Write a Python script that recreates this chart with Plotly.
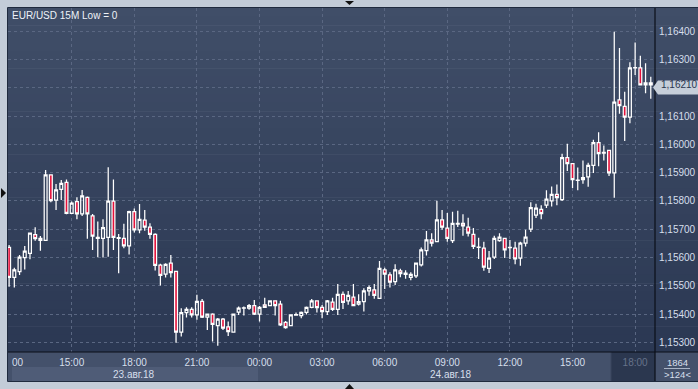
import pandas as pd
import plotly.graph_objects as go

# ---- data (EUR/USD, 15-minute candles, 23.08.2018 12:00 .. 24.08.2018 18:45) ----
start_time = "2018-08-23 12:00"
n_bars = 124
open_ = [1.15636, 1.15530, 1.15550, 1.15600, 1.15615, 1.15681, 1.15668, 1.15661, 1.15892, 1.15803,
         1.15841, 1.15866, 1.15756, 1.15798, 1.15754, 1.15813, 1.15747, 1.15668, 1.15668, 1.15671,
         1.15799, 1.15670, 1.15668, 1.15641, 1.15762, 1.15698, 1.15732, 1.15707, 1.15682, 1.15573,
         1.15541, 1.15580, 1.15551, 1.15336, 1.15405, 1.15417, 1.15397, 1.15445, 1.15389, 1.15400,
         1.15359, 1.15382, 1.15355, 1.15336, 1.15407, 1.15421, 1.15421, 1.15430, 1.15400, 1.15433,
         1.15430, 1.15447, 1.15435, 1.15371, 1.15359, 1.15396, 1.15395, 1.15406, 1.15424, 1.15447,
         1.15424, 1.15409, 1.15442, 1.15417, 1.15470, 1.15447, 1.15460, 1.15435, 1.15444, 1.15482,
         1.15486, 1.15456, 1.15556, 1.15539, 1.15515, 1.15553, 1.15540, 1.15530, 1.15535, 1.15574,
         1.15624, 1.15662, 1.15656, 1.15733, 1.15704, 1.15660, 1.15718, 1.15721, 1.15707, 1.15682,
         1.15636, 1.15633, 1.15562, 1.15601, 1.15660, 1.15668, 1.15635, 1.15633, 1.15598, 1.15651,
         1.15700, 1.15750, 1.15770, 1.15785, 1.15800, 1.15823, 1.15805, 1.15953, 1.15932, 1.15873,
         1.15875, 1.15885, 1.15926, 1.16006, 1.15972, 1.15979, 1.15899, 1.16157, 1.16134, 1.16096,
         1.16270, 1.16270, 1.16210, 1.16217]
high = [1.15644, 1.15564, 1.15609, 1.15641, 1.15688, 1.15707, 1.15676, 1.15909, 1.15893, 1.15860,
        1.15874, 1.15876, 1.15798, 1.15813, 1.15839, 1.15816, 1.15754, 1.15727, 1.15735, 1.15919,
        1.15876, 1.15683, 1.15719, 1.15765, 1.15773, 1.15789, 1.15768, 1.15721, 1.15686, 1.15578,
        1.15580, 1.15609, 1.15552, 1.15421, 1.15424, 1.15424, 1.15468, 1.15453, 1.15402, 1.15403,
        1.15386, 1.15386, 1.15374, 1.15400, 1.15427, 1.15427, 1.15436, 1.15450, 1.15429, 1.15458,
        1.15449, 1.15449, 1.15447, 1.15376, 1.15397, 1.15406, 1.15409, 1.15427, 1.15453, 1.15449,
        1.15432, 1.15450, 1.15458, 1.15506, 1.15480, 1.15482, 1.15506, 1.15470, 1.15491, 1.15501,
        1.15506, 1.15588, 1.15564, 1.15548, 1.15576, 1.15560, 1.15555, 1.15548, 1.15582, 1.15635,
        1.15694, 1.15686, 1.15801, 1.15768, 1.15757, 1.15762, 1.15765, 1.15753, 1.15741, 1.15704,
        1.15670, 1.15656, 1.15623, 1.15677, 1.15686, 1.15670, 1.15662, 1.15656, 1.15656, 1.15698,
        1.15795, 1.15790, 1.15785, 1.15838, 1.15851, 1.15858, 1.15967, 1.16002, 1.15934, 1.15918,
        1.15943, 1.15935, 1.16016, 1.16043, 1.15996, 1.15981, 1.16398, 1.16341, 1.16186, 1.16290,
        1.16360, 1.16313, 1.16287, 1.16239]
low = [1.15497, 1.15494, 1.15538, 1.15558, 1.15594, 1.15659, 1.15624, 1.15661, 1.15795, 1.15768,
       1.15803, 1.15753, 1.15754, 1.15735, 1.15747, 1.15666, 1.15627, 1.15601, 1.15600, 1.15603,
       1.15627, 1.15544, 1.15633, 1.15611, 1.15688, 1.15686, 1.15695, 1.15666, 1.15554, 1.15501,
       1.15529, 1.15529, 1.15299, 1.15321, 1.15388, 1.15388, 1.15380, 1.15386, 1.15344, 1.15303,
       1.15288, 1.15344, 1.15323, 1.15336, 1.15397, 1.15395, 1.15415, 1.15397, 1.15374, 1.15422,
       1.15428, 1.15395, 1.15358, 1.15348, 1.15359, 1.15394, 1.15385, 1.15399, 1.15421, 1.15406,
       1.15385, 1.15397, 1.15411, 1.15397, 1.15418, 1.15433, 1.15428, 1.15430, 1.15409, 1.15465,
       1.15454, 1.15454, 1.15489, 1.15494, 1.15503, 1.15530, 1.15525, 1.15520, 1.15528, 1.15568,
       1.15607, 1.15639, 1.15654, 1.15698, 1.15656, 1.15651, 1.15708, 1.15677, 1.15674, 1.15630,
       1.15595, 1.15553, 1.15545, 1.15595, 1.15656, 1.15598, 1.15595, 1.15576, 1.15571, 1.15639,
       1.15690, 1.15740, 1.15735, 1.15775, 1.15780, 1.15785, 1.15800, 1.15906, 1.15846, 1.15838,
       1.15861, 1.15850, 1.15899, 1.15923, 1.15943, 1.15888, 1.15811, 1.16108, 1.16012, 1.16075,
       1.16245, 1.16208, 1.16181, 1.16161]
close = [1.15530, 1.15556, 1.15601, 1.15623, 1.15686, 1.15667, 1.15661, 1.15892, 1.15801, 1.15839,
         1.15862, 1.15756, 1.15792, 1.15754, 1.15818, 1.15754, 1.15676, 1.15671, 1.15706, 1.15799,
         1.15671, 1.15668, 1.15641, 1.15762, 1.15698, 1.15735, 1.15707, 1.15682, 1.15572, 1.15537,
         1.15576, 1.15547, 1.15336, 1.15405, 1.15417, 1.15397, 1.15445, 1.15389, 1.15400, 1.15364,
         1.15382, 1.15350, 1.15338, 1.15400, 1.15421, 1.15422, 1.15430, 1.15400, 1.15424, 1.15424,
         1.15447, 1.15430, 1.15362, 1.15352, 1.15397, 1.15398, 1.15406, 1.15424, 1.15447, 1.15423,
         1.15409, 1.15447, 1.15417, 1.15470, 1.15441, 1.15466, 1.15430, 1.15444, 1.15482, 1.15494,
         1.15466, 1.15562, 1.15541, 1.15513, 1.15556, 1.15543, 1.15545, 1.15540, 1.15580, 1.15627,
         1.15662, 1.15651, 1.15733, 1.15707, 1.15668, 1.15721, 1.15721, 1.15712, 1.15686, 1.15639,
         1.15637, 1.15566, 1.15598, 1.15668, 1.15672, 1.15627, 1.15636, 1.15595, 1.15651, 1.15672,
         1.15776, 1.15775, 1.15755, 1.15806, 1.15823, 1.15812, 1.15953, 1.15932, 1.15875, 1.15874,
         1.15882, 1.15926, 1.16006, 1.15967, 1.15969, 1.15899, 1.16149, 1.16137, 1.16096, 1.16270,
         1.16271, 1.16210, 1.16217, 1.16210]

y_ticks = [1.153, 1.154, 1.155, 1.156, 1.157, 1.158, 1.159, 1.160, 1.161, 1.162, 1.163, 1.164]
y_tick_text = ["1,15300", "1,15400", "1,15500", "1,15600", "1,15700", "1,15800", "1,15900",
               "1,16000", "1,16100", "", "1,16300", "1,16400"]   # 1,16200 hidden under price tag
x_tick_times = ["2018-08-23 15:00", "2018-08-23 18:00", "2018-08-23 21:00", "2018-08-24 00:00",
                "2018-08-24 03:00", "2018-08-24 06:00", "2018-08-24 09:00", "2018-08-24 12:00",
                "2018-08-24 15:00", "2018-08-24 18:00"]
x_tick_text = ["15:00", "18:00", "21:00", "00:00", "03:00", "06:00", "09:00", "12:00", "15:00",
               "<span style='color:#66728a'>18:00</span>"]
date_labels = ["23.авг.18", "24.авг.18"]
date_label_times = ["2018-08-23 18:00", "2018-08-24 09:10"]
title_text = "EUR/USD 15M Low = 0"
last_price = close[-1]

times = pd.date_range(start_time, periods=n_bars, freq="15min")

# ---- geometry helpers (pixel -> paper) ----
W, H = 698, 389
L, R, T, B = 8, 655, 8, 352


def px(x):
    return (x - L) / (R - L)


def py(y):
    return (B - y) / (B - T)


FONT = "Liberation Sans, Arial, sans-serif"
TXT = "#d6dfec"

fig = go.Figure()
fig.add_trace(go.Candlestick(
    x=times, open=open_, high=high, low=low, close=close,
    increasing=dict(line=dict(color="#ffffff", width=1.25), fillcolor="rgba(0,0,0,0)"),
    decreasing=dict(line=dict(color="#ffffff", width=1.25), fillcolor="#e5113b"),
    whiskerwidth=0, showlegend=False, hoverinfo="skip",
))

shapes = []
# gradient background for plot and right axis
nb = 40
top_c = (64, 78, 104)
bot_c = (43, 56, 83)
for k in range(nb):
    f = k / (nb - 1)
    c = tuple(int(round(top_c[j] + (bot_c[j] - top_c[j]) * f)) for j in range(3))
    y0 = T + (B - T) * k / nb
    y1 = T + (B - T) * (k + 1) / nb + 0.5
    shapes.append(dict(type="rect", xref="paper", yref="paper", x0=px(L), x1=px(W + 2),
                       y0=py(y1), y1=py(y0), fillcolor="rgb(%d,%d,%d)" % c,
                       line=dict(width=0), layer="below"))
# bottom axis strip
shapes.append(dict(type="rect", xref="paper", yref="paper", x0=px(L), x1=px(W + 2),
                   y0=py(381), y1=py(B), fillcolor="#44516b", line=dict(width=0), layer="below"))
# date band (lighter)
shapes.append(dict(type="rect", xref="paper", yref="paper", x0=px(12), x1=px(258),
                   y0=py(381), y1=py(367), fillcolor="#4f5c77", line=dict(width=0), layer="below"))
# darker "future" block
shapes.append(dict(type="rect", xref="paper", yref="paper", x0=px(611), x1=px(R),
                   y0=py(381), y1=py(B), fillcolor="#2b374f", line=dict(width=0), layer="below"))
shapes.append(dict(type="line", xref="paper", yref="paper", x0=px(611), x1=px(611),
                   y0=py(381), y1=py(B), line=dict(color="#3a465e", width=1), layer="below"))
# frame lines
shapes.append(dict(type="line", xref="paper", yref="paper", x0=px(R), x1=px(R),
                   y0=py(381), y1=py(T), line=dict(color="#0b0f18", width=1.2)))
shapes.append(dict(type="line", xref="paper", yref="paper", x0=px(L), x1=px(W + 2),
                   y0=py(B), y1=py(B), line=dict(color="#0b0f18", width=1.2)))
shapes.append(dict(type="rect", xref="paper", yref="paper", x0=px(7.5), x1=px(W + 3),
                   y0=py(381.5), y1=py(7.5), line=dict(color="#1f2a3e", width=1),
                   fillcolor="rgba(0,0,0,0)"))
# small navigation triangles on the outer frame
shapes.append(dict(type="path", xref="paper", yref="paper",
                   path="M %f %f L %f %f L %f %f Z" % (px(1), py(188), px(6), py(193), px(1), py(198)),
                   fillcolor="#111111", line=dict(width=0)))
shapes.append(dict(type="path", xref="paper", yref="paper",
                   path="M %f %f L %f %f L %f %f Z" % (px(345), py(1), px(354), py(1), px(349.5), py(5)),
                   fillcolor="#111111", line=dict(width=0)))
shapes.append(dict(type="path", xref="paper", yref="paper",
                   path="M %f %f L %f %f L %f %f Z" % (px(345), py(389), px(354), py(389), px(349.5), py(384)),
                   fillcolor="#111111", line=dict(width=0)))
# last price marker box
yl = 87.5
shapes.append(dict(type="path", xref="paper", yref="paper",
                   path="M %f %f L %f %f L %f %f L %f %f L %f %f Z" % (
                       px(653), py(yl), px(658), py(yl - 7), px(W + 2), py(yl - 7),
                       px(W + 2), py(yl + 7), px(658), py(yl + 7)),
                   fillcolor="#c6ced9", line=dict(width=0)))
# counter separator
shapes.append(dict(type="line", xref="paper", yref="paper", x0=px(664), x1=px(690),
                   y0=py(368.5), y1=py(368.5), line=dict(color="#aab4c6", width=1)))

annotations = [
    dict(text=title_text, xref="paper", yref="paper", x=px(10), y=py(15), xanchor="left",
         yanchor="middle", showarrow=False, font=dict(family=FONT, size=10, color="#eef2f8")),
    dict(text=("%.5f" % last_price).replace(".", ","), xref="paper", yref="y", x=px(659),
         y=last_price, xanchor="left", yanchor="middle", showarrow=False,
         font=dict(family=FONT, size=10, color="#2b3650")),
    dict(text="00", xref="paper", yref="paper", x=px(9.5), y=py(362), xanchor="left",
         yanchor="middle", showarrow=False, font=dict(family=FONT, size=10, color=TXT)),
    dict(text="1864", xref="paper", yref="paper", x=px(677), y=py(362), xanchor="center",
         yanchor="middle", showarrow=False, font=dict(family=FONT, size=9.5, color=TXT)),
    dict(text="&gt;124&lt;", xref="paper", yref="paper", x=px(677), y=py(375), xanchor="center",
         yanchor="middle", showarrow=False, font=dict(family=FONT, size=9.5, color=TXT)),
]
for lab, t in zip(date_labels, date_label_times):
    annotations.append(dict(text=lab, xref="x", yref="paper", x=t, y=py(374),
                            xanchor="center", yanchor="middle", showarrow=False,
                            font=dict(family=FONT, size=10, color=TXT)))

fig.update_layout(
    width=W, height=H,
    margin=dict(l=L, r=W - R, t=T, b=H - B, pad=0, autoexpand=False),
    paper_bgcolor="#c3ccd8",
    plot_bgcolor="rgba(0,0,0,0)",
    separators=", ",
    boxgap=0.22,
    shapes=shapes,
    annotations=annotations,
    font=dict(family=FONT, size=10, color=TXT),
    xaxis=dict(
        type="date", automargin=False,
        range=["2018-08-23 11:56:50", "2018-08-24 18:57:08"],
        rangeslider=dict(visible=False),
        tickvals=x_tick_times, ticktext=x_tick_text,
        showgrid=True, gridcolor="#5a6782", griddash="3px,3px", gridwidth=1,
        zeroline=False, showline=False, ticks="",
        tickfont=dict(family=FONT, size=10, color=TXT),
        ticklabelstandoff=3,
    ),
    yaxis=dict(
        side="right", automargin=False,
        range=[1.15266, 1.16482],
        tickvals=y_ticks, ticktext=y_tick_text,
        showgrid=True, gridcolor="#5a6782", griddash="3px,3px", gridwidth=1,
        zeroline=False, showline=False, ticks="",
        tickfont=dict(family=FONT, size=10, color=TXT),
        ticklabelstandoff=3,
    ),
)

fig.write_html(
    "out.html",
    config={"displayModeBar": False},
    post_script="document.body.style.margin='0';document.body.style.padding='0';"
                "document.body.style.overflow='hidden';",
)
